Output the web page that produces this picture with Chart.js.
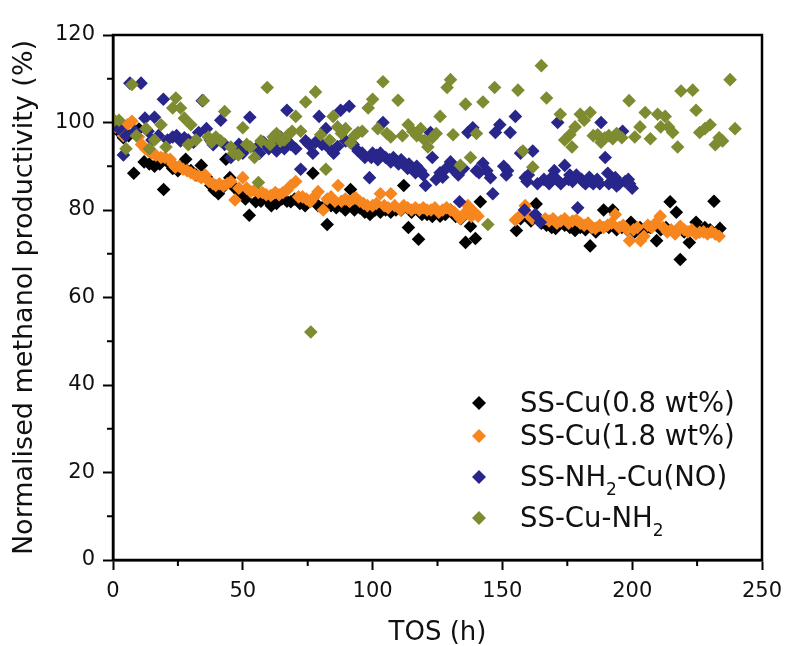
<!DOCTYPE html>
<html lang="en">
<head>
    <meta charset="UTF-8">
    <title>Normalised methanol productivity vs TOS</title>
    <style>
        body { margin: 0; background: #fff; }
        #chart { display: block; }
    </style>
    <script src="https://cdn.jsdelivr.net/npm/chart.js"></script>
</head>
<body>
    <canvas id="chart" width="787" height="646"></canvas>

    <script>
        // Data: [TOS (h), normalised productivity (%)]
        const cu08 = [
            [2,98],[4,96.5],[6,97],[8,88.4],[10,98.5],[12,91],[14,90.5],[16,90],[18,90.5],[19.5,84.7],
            [21,91],[23,89.5],[25,89],[27,90],[28,91.6],[30,89],[32,88],[34,90.2],[36,87.5],[37.7,85.6],
            [39,84.5],[40.6,83.7],[42,85],[43.5,91.6],[45,87.4],[47,85],[49,83.7],[51,82.5],[52.5,78.8],[55,81.9],
            [57,82],[59,82.5],[61,81],[63,81.5],[65,82.5],[67,82],[68.5,81.9],[70,82.5],[72,81.5],[74,81],
            [76,82],[77,88.4],[79,81],[80.5,80.5],[82.5,76.7],[84,81],[86,80.5],[87.7,81],[89.5,80],[91.5,84.7],
            [93,80],[95,80.5],[97,79.5],[99,79],[101,80],[103,79.5],[105,80],[107,79.5],[109,80],[111,80],
            [112,85.6],[113.8,76],[115,79.5],[117.7,73.3],[119,79],[121,79],[123,78.5],[125,79.5],[126,78.6],[128,79],
            [130,80],[132,78.5],[134,78],[135.8,72.6],[137.7,76.3],[139.6,73.5],[141.5,81.9],
            [155.4,75.3],[157,78],[159,79],[161,77.5],[163,81.4],[165,77],[167,76.5],[169,76],[170.5,75.8],[172,77],
            [174,76.5],[176,76],[178,75.3],[180,76],[182,75.5],[183.8,71.8],[186,75],[188,76],[189,80],[191,76],
            [192.5,80],[194,75.5],[196,76],[198,75.5],[199.5,77.2],[201,75],[203,76],[205,75.5],[207,76],[209.4,73],
            [211,75.5],[213,76],[214.6,81.9],[217,79.5],[218.5,68.7],[220,75],[222,72.6],[224.6,77.2],[226,75.5],[228,76],
            [230,75.5],[231.5,82],[233.8,75.8]
        ];
        const cu18 = [
            [1,99],[2.5,98.6],[4,97],[5.5,99.5],[7.3,100.3],[8.5,97.5],[9.8,96.7],[11,95],[12.5,94],[13.6,93.5],
            [15,93],[16.5,92.5],[18.5,92],[20,92],[22,91.6],[23,90.5],[24,89.8],[25.5,90],[27,89.3],[28.5,89],
            [30,88.5],[31.5,88],[33,87.8],[34,87.4],[35.5,88],[37,86.5],[38.5,86],[39.6,85.6],[41,86],[42.5,85.5],
            [44,86],[45.4,86.5],[47,82.3],[48.5,85],[50,87.4],[51.5,85],[53,84.2],[54.5,84.5],[56,84],[57.5,84],
            [59,83.5],[60.8,83.3],[62.5,84],[64,83.5],[65.5,84],[67,84.5],[68.5,85.6],[70.4,86.5],[71.5,83],[73,83],
            [74.5,82.5],[76,81.9],[77.5,83],[79,84.2],[81,80],[82.5,82.5],[84,83],[85.5,82],[86.7,85.6],[88,82],
            [89.5,82.5],[91,82],[92.5,82.5],[93.5,82.8],[95,82],[96.5,81.5],[98,81],[100,81],[101.5,81.5],[103,83.7],
            [104.5,81],[106,80.5],[107,83.7],[108.5,81],[110.8,80],[112,81],[113.5,80.5],[115,80],[116.5,80.5],[118,80],
            [119.5,80.5],[121,80],[122.5,80],[124,80.5],[125.5,79.5],[127,80],[128.5,80.5],[130,80],[131.5,79.5],[133.8,78],
            [135,79],[136.7,81],[138,78.5],[139.2,79.5],[140.6,78.6],
            [155,77.7],[156.5,78.5],[158.8,81],[160,79],[161.5,78],[163,78.5],[164.5,77.5],[166.5,78],[168,77.5],[169.5,78],
            [171,77],[172.5,77.5],[174,78],[175.5,77],[177,77.5],[178.5,77.7],[180,77],[181.5,76.5],[183,77],[184.5,76],
            [185.8,75.8],[187.5,76.5],[189,76],[190.5,76.5],[192,77],[193.5,79],[195,76],[196.5,76.5],[198,75.5],[199,73],
            [200.5,75.5],[202,76],[203.2,73],[204.5,74],[206,76.5],[207.5,76],[209,77],[210.8,78.6],[212,76],[213.5,75],
            [215,75.5],[216.5,74.5],[218.5,76.3],[220,75.5],[221.5,75],[223,75.5],[224.5,74.5],[226,74.9],[227.5,75],[229,74.5],
            [230.5,75],[232,74.5],[233.5,74]
        ];
        const nh2CuNO = [
            [0.5,99.5],[2.3,98.6],[4,92.6],[5,97],[6.5,109],[8.5,98],[10.8,109],[12.3,101],[13.5,98],[15,96],
            [16,101.2],[17.5,97],[19.4,105.3],[21,96],[23,96.7],[24.5,97],[26,95.8],[27.5,96.5],[29,96],[31,95.5],
            [33,97.7],[34.4,105],[36,98.6],[37.5,96],[38.6,94.9],[40,96],[41.5,100.5],[43,95],[45.4,92],[47,94],
            [48.5,95],[50,93],[51.5,94.5],[52.7,101.2],[55,94],[56.5,93],[58,95.5],[60,94],[61.7,94.9],[63,93.5],
            [64.6,96.7],[66,94],[67,102.8],[68.5,95],[70.4,94],[72.3,89.3],[74.2,95.8],[75.5,95],[77,93],[78,95.5],
            [79.4,101.4],[80.5,95],[82,98.6],[83.5,94],[85,93],[86.5,94.5],[87.7,102.8],[89.6,95.8],[91,103.7],[92.5,95],
            [94.4,93.5],[96,93],[97,92],[98.8,87.4],[100,93],[101.5,92.5],[103,93],[104,100],[105,92],[106.5,91.5],
            [108,92],[109.5,91],[111,91.5],[112.7,90.2],[114,90.5],[115.6,89.3],[117,90],[118.5,89],[120.4,85.6],[122.3,97.7],
            [123,92],[124.5,87],[126,88.5],[128,89.3],[130,91],[131.5,89],[133.5,81.9],[135,89.5],[136.7,97.7],[138.6,98.8],
            [140,89],[142.5,90.7],[144,89],[145.4,87.4],[146.3,83.7],[147.3,97.7],[149,99.5],[150.5,90],[152,89],[153,97.7],
            [155,101.4],[157,93],[158.8,87.4],[158.5,80],[160,88],[161.7,93.5],[162.7,79],[164.6,77.2],[166,87],[167.5,86.5],
            [169,87.5],[170,89],[171.3,100],[172.5,86],[174,90.2],[175.5,87],[177,86.5],[178.5,88],[179,80.5],[180.5,87],
            [182,86],[183.5,87.5],[185,86],[186.5,87],[188,100],[189.6,92],[190.6,88.4],[192,86.5],[193.5,87.4],[195,86],
            [196.3,98],[197.3,86.5],[198.5,87],[200,85],
            [99.5,92],[102,91.5],[107,91],[110,90.5],[113.5,89.5],[116.5,88.5],[119.5,88],[127,87.5],[133,88],[141,88.5],
            [151.5,88],[159.5,86.5],[163.5,86],[168,86],[171,87],[176,88],[181,86.5],[184,86.5],[187.5,86],[191,86],[194,85.5],[199,86]
        ];
        const cuNH2 = [
            [0.5,100.5],[2.3,100.5],[5,94],[7.3,108.7],[9,97],[12.7,98.6],[14,94],[16,96],[18.5,99.5],[20.4,94.4],
            [23,103.3],[24.2,105.6],[26,103.3],[27.5,101],[29,94.9],[30,99.5],[32,96],[34.8,105],[36.7,96.7],[38,95.5],
            [39.6,96.7],[41.5,95.8],[43,102.5],[45.4,94.4],[46.5,93],[48.3,92.6],[50,98.8],[51.5,95],[53,94.4],[54.5,92],
            [56,86.3],[57,95.8],[59.4,108],[60.5,95],[61.7,96.7],[63,97.5],[64.6,95.8],[66,96],[67.5,97.2],[69,98],
            [70.4,101.4],[72.3,98],[74.2,104.7],[76.2,52.1],[78,107],[80,97.2],[82,89.3],[83.5,96],[84.8,101.4],[86.5,99],
            [88,97.5],[89.6,98.6],[91.5,95.3],[93,97],[94.4,97.7],[96,98],[98.3,103.3],[100,105.3],[102,98.6],[104,109.3],
            [105.5,97.5],[107,96.7],[109.8,105.1],[111.5,97],[113.7,99.5],[115.5,98],[117,97],[118.5,98.6],[120,96],[121.3,94.4],
            [123,96.5],[124.5,97.5],[126,101.4],[128.7,108],[130,109.8],[131,97.2],[133.8,90.2],[135.8,104.2],[137.7,92],[140,97.5],
            [142.5,104.7],[144.4,76.7],[147,108],[156,107.4],[157.9,93.5],[161.7,89.8],[165,113],[167,105.6],[172.3,101.9],[174,96],
            [176,97.2],[176.8,94.4],[178,99],[180,101.9],[181.5,100.5],[183.8,102.3],[185,97],[186.7,97.2],[188,95.5],[189.5,96.5],
            [191,97],[192.5,96.3],[194,97.5],[196,96.5],[198.8,105],[201,96.7],[203,99],[205,102.3],[207,96.3],[209.8,101.9],
            [211,99],[212.7,101.4],[214,99],[215.6,97.7],[217.5,94.4],[218.8,107.2],[223.3,107.4],[224.6,102.8],[226,97.7],[228,98.6],
            [230,99.5],[232,94.9],[233.5,96.5],[234.8,95.8],[237.7,109.8],[239.6,98.6]
        ];

        // Series names (subscript parts marked with _{...})
        const seriesNames = ['SS-Cu(0.8 wt%)', 'SS-Cu(1.8 wt%)', 'SS-NH_{2}-Cu(NO)', 'SS-Cu-NH_{2}'];
        const seriesColors = ['#000000', '#f7861f', '#28268a', '#7f8b30'];

        // Axis ticks
        const xMajor = [0, 50, 100, 150, 200, 250];
        const xMinor = [25, 75, 125, 175, 225];
        const yMajor = [0, 20, 40, 60, 80, 100, 120];
        const yMinor = [10, 30, 50, 70, 90, 110];

        const FONT = "'DejaVu Sans', Verdana, sans-serif";

        const toPoints = arr => arr.map(p => ({ x: p[0], y: p[1] }));

        // Frame, minor ticks and the in-plot legend
        const framePlugin = {
            id: 'framePlugin',
            afterDraw(chart) {
                const { ctx, chartArea: a, scales: { x, y } } = chart;
                ctx.save();
                ctx.strokeStyle = '#000';
                ctx.lineWidth = 2;
                ctx.beginPath();
                xMinor.forEach(v => {
                    const px = x.getPixelForValue(v);
                    ctx.moveTo(px, a.bottom);
                    ctx.lineTo(px, a.bottom + 6);
                });
                yMinor.forEach(v => {
                    const py = y.getPixelForValue(v);
                    ctx.moveTo(a.left - 6, py);
                    ctx.lineTo(a.left, py);
                });
                ctx.stroke();

                ctx.lineWidth = 2.5;
                ctx.strokeRect(a.left, a.top, a.right - a.left, a.bottom - a.top);

                // legend
                const rows = [412, 445, 486, 527];
                const markX = 479, textX = 520;
                seriesNames.forEach((name, i) => {
                    const base = rows[i];
                    const cy = base - 9;
                    const r = 7;
                    ctx.fillStyle = seriesColors[i];
                    ctx.beginPath();
                    ctx.moveTo(markX, cy - r);
                    ctx.lineTo(markX + r, cy);
                    ctx.lineTo(markX, cy + r);
                    ctx.lineTo(markX - r, cy);
                    ctx.closePath();
                    ctx.fill();

                    ctx.fillStyle = '#111';
                    ctx.textBaseline = 'alphabetic';
                    ctx.textAlign = 'left';
                    let tx = textX;
                    name.split(/(_\{[^}]*\})/).forEach(part => {
                        if (!part) return;
                        if (part.startsWith('_{')) {
                            const s = part.slice(2, -1);
                            ctx.font = '17px ' + FONT;
                            ctx.fillText(s, tx, base + 9);
                            tx += ctx.measureText(s).width;
                        } else {
                            ctx.font = '27.5px ' + FONT;
                            ctx.fillText(part, tx, base);
                            tx += ctx.measureText(part).width;
                        }
                    });
                });
                ctx.restore();
            }
        };

        const datasets = [cu08, cu18, nh2CuNO, cuNH2].map((s, i) => ({
            label: seriesNames[i],
            data: toPoints(s),
            backgroundColor: seriesColors[i],
            borderWidth: 0,
            pointStyle: 'rectRot',
            pointRadius: 6.8,
            pointHoverRadius: 6.8,
            order: 3 - i   // later series drawn on top
        }));

        new Chart(document.getElementById('chart'), {
            type: 'scatter',
            data: { datasets },
            options: {
                responsive: false,
                animation: false,
                devicePixelRatio: 1,
                layout: { padding: { left: 0, right: 25, top: 35, bottom: 0 } },
                plugins: {
                    legend: { display: false },
                    tooltip: { enabled: false }
                },
                scales: {
                    x: {
                        type: 'linear',
                        min: 0,
                        max: 250,
                        afterBuildTicks: s => { s.ticks = xMajor.map(v => ({ value: v })); },
                        afterFit: s => { s.height = 86; s.paddingLeft = 0; s.paddingRight = 0; },
                        border: { display: true, color: '#000', width: 2.5 },
                        grid: { drawOnChartArea: false, drawTicks: true, tickLength: 10, tickWidth: 2, tickColor: '#000' },
                        ticks: { color: '#111', padding: 9, font: { family: FONT, size: 21 } },
                        title: { display: true, text: 'TOS (h)', color: '#111', padding: { top: 0, bottom: 0 }, font: { family: FONT, size: 26, lineHeight: 1.0 } }
                    },
                    y: {
                        min: 0,
                        max: 120,
                        afterBuildTicks: s => { s.ticks = yMajor.map(v => ({ value: v })); },
                        afterFit: s => { s.width = 113; s.paddingTop = 0; s.paddingBottom = 0; },
                        border: { display: true, color: '#000', width: 2.5 },
                        grid: { drawOnChartArea: false, drawTicks: true, tickLength: 10, tickWidth: 2, tickColor: '#000' },
                        ticks: { color: '#111', padding: 8, font: { family: FONT, size: 21 } },
                        title: { display: true, text: 'Normalised methanol productivity (%)', color: '#111', padding: { top: 9, bottom: 0 }, font: { family: FONT, size: 27 } }
                    }
                }
            },
            plugins: [framePlugin]
        });
    </script>
</body>
</html>
